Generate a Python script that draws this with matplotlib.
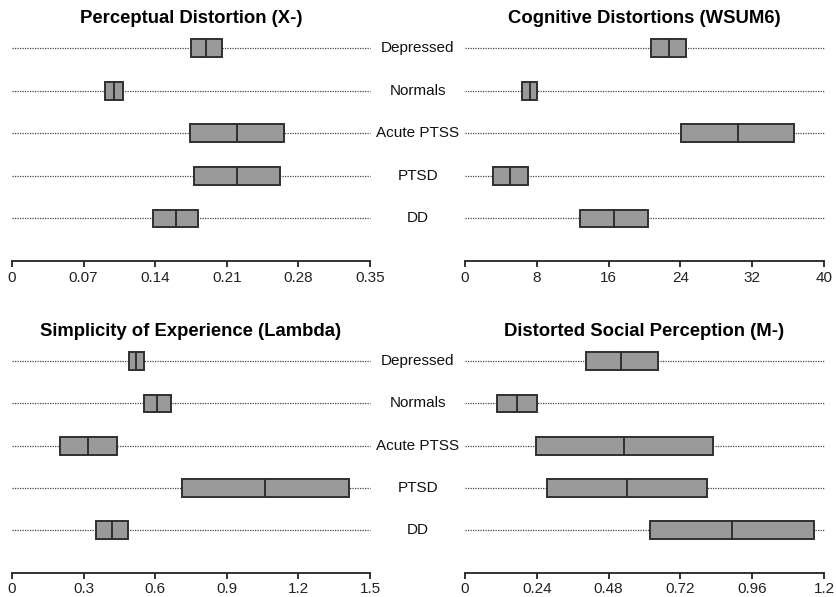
import matplotlib
matplotlib.use("Agg")
import matplotlib.pyplot as plt
from matplotlib.patches import Rectangle

plt.rcParams["font.family"] = ["Liberation Sans", "DejaVu Sans"]

groups = ["Depressed", "Normals", "Acute PTSS", "PTSD", "DD"]

# per-panel quartiles: (q1, median, q3), in the order of `groups`
x_minus = [(0.175, 0.190, 0.205), (0.091, 0.100, 0.109), (0.174, 0.220, 0.266),
           (0.178, 0.220, 0.262), (0.138, 0.160, 0.182)]
wsum6 = [(20.7, 22.7, 24.6), (6.3, 7.2, 8.0), (24.1, 30.4, 36.7),
         (3.1, 5.05, 7.0), (12.8, 16.55, 20.4)]
lam = [(0.490, 0.520, 0.552), (0.552, 0.609, 0.667), (0.201, 0.320, 0.440),
       (0.711, 1.061, 1.411), (0.351, 0.418, 0.485)]
m_minus = [(0.403, 0.523, 0.644), (0.108, 0.173, 0.240), (0.236, 0.533, 0.829),
           (0.274, 0.543, 0.809), (0.617, 0.892, 1.168)]

titles = ["Perceptual Distortion (X-)", "Cognitive Distortions (WSUM6)",
          "Simplicity of Experience (Lambda)", "Distorted Social Perception (M-)"]
xmax = [0.35, 40, 1.5, 1.2]
xticks = [[0, 0.07, 0.14, 0.21, 0.28, 0.35], [0, 8, 16, 24, 32, 40],
          [0, 0.3, 0.6, 0.9, 1.2, 1.5], [0, 0.24, 0.48, 0.72, 0.96, 1.2]]
xticklabels = [["0", "0.07", "0.14", "0.21", "0.28", "0.35"],
               ["0", "8", "16", "24", "32", "40"],
               ["0", "0.3", "0.6", "0.9", "1.2", "1.5"],
               ["0", "0.24", "0.48", "0.72", "0.96", "1.2"]]
data = [x_minus, wsum6, lam, m_minus]

W, H = 837, 597
fig = plt.figure(figsize=(W / 100, H / 100), dpi=100)

# axes rectangles in pixels: (left, top, right, bottom)
boxes_px = [(12, 27, 370, 261), (465, 27, 824, 261),
            (12, 340, 370, 572.5), (465, 340, 824, 572.5)]

box_fill = "#9a9a9a"
box_edge = "#303030"
ypos = [5, 4, 3, 2, 1]
half_h = 0.21

for k, (l, t, r, b) in enumerate(boxes_px):
    ax = fig.add_axes([l / W, 1 - b / H, (r - l) / W, (b - t) / H])
    ax.set_xlim(0, xmax[k])
    ax.set_ylim(0, 5.5)
    for y, (q1, med, q3) in zip(ypos, data[k]):
        ax.plot([0, xmax[k]], [y, y], color="#444444", linestyle=(0, (1, 1)),
                linewidth=0.9, zorder=1, clip_on=False)
        ax.add_patch(Rectangle((q1, y - half_h), q3 - q1, 2 * half_h,
                               facecolor=box_fill, edgecolor=box_edge,
                               linewidth=1.4, zorder=2))
        ax.plot([med, med], [y - half_h, y + half_h], color=box_edge,
                linewidth=1.4, zorder=3)
    for s in ["top", "right", "left"]:
        ax.spines[s].set_visible(False)
    ax.spines["bottom"].set_color("#222222")
    ax.spines["bottom"].set_linewidth(1.3)
    ax.set_yticks([])
    ax.set_xticks(xticks[k])
    ax.set_xticklabels(xticklabels[k])
    ax.tick_params(axis="x", direction="out", length=4, width=1.3,
                   colors="#222222", labelsize=11, pad=3)
    ax.set_title(titles[k], fontsize=13.3, fontweight="bold", pad=2)

    # group names sit in the gap between left and right panels
    if k in (0, 2):
        for y, g in zip(ypos, groups):
            fig_y = ax.transData.transform((0, y))[1]
            fig.text(418 / W, fig_y / fig.bbox.height, g, ha="center",
                     va="center", fontsize=11, color="#111111")

fig.savefig("out.png", dpi=100)
